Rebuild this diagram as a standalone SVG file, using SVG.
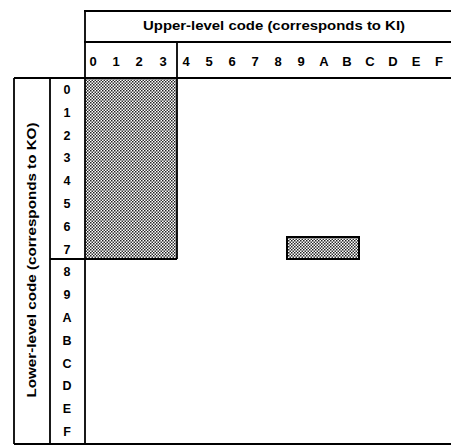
<svg xmlns="http://www.w3.org/2000/svg" width="451" height="446" viewBox="0 0 451 446">
<defs>
<pattern id="dots" width="3" height="3" patternUnits="userSpaceOnUse">
<rect width="3" height="3" fill="#fff"/>
<rect x="0" y="0" width="1.5" height="1.5" fill="#222"/>
<rect x="1.5" y="1.5" width="1.5" height="1.5" fill="#333"/>
</pattern>
<style>
.ln{stroke:#000;stroke-width:1.8;fill:none}
.t{font-family:"Liberation Sans",Arial,sans-serif;font-weight:bold;fill:#000}
.hd{font-size:13px;text-anchor:middle}
.dg{font-size:13px;text-anchor:middle}
.rw{font-size:12.5px;text-anchor:middle}
</style>
</defs>
<rect width="451" height="446" fill="#fff"/>
<g id="shade-low">
<rect x="85" y="78" width="92" height="181" fill="url(#dots)"/>
</g>
<g id="shade-box">
<rect x="287" y="237" width="72" height="22" fill="url(#dots)" stroke="#000" stroke-width="2"/>
</g>
<g id="grid" class="ln">
<line x1="84" y1="11" x2="451" y2="11"/>
<line x1="84" y1="42" x2="451" y2="42"/>
<line x1="14" y1="78" x2="451" y2="78"/>
<line x1="14" y1="444" x2="451" y2="444"/>
<line x1="14" y1="78" x2="14" y2="444"/>
<line x1="50" y1="78" x2="50" y2="444"/>
<line x1="85" y1="10" x2="85" y2="444"/>
<line x1="177" y1="42" x2="177" y2="259"/>
<line x1="50" y1="259" x2="177" y2="259"/>
</g>
<g id="upper-header">
<text class="t hd" x="274" y="30" textLength="262" lengthAdjust="spacingAndGlyphs">Upper-level code (corresponds to KI)</text>
</g>
<g id="upper-codes" class="t dg">
<text x="93" y="65.5">0</text>
<text x="116" y="65.5">1</text>
<text x="139" y="65.5">2</text>
<text x="163" y="65.5">3</text>
<text x="186" y="65.5">4</text>
<text x="209" y="65.5">5</text>
<text x="232" y="65.5">6</text>
<text x="255" y="65.5">7</text>
<text x="278" y="65.5">8</text>
<text x="301" y="65.5">9</text>
<text x="324" y="65.5">A</text>
<text x="347" y="65.5">B</text>
<text x="370" y="65.5">C</text>
<text x="393" y="65.5">D</text>
<text x="416" y="65.5">E</text>
<text x="439" y="65.5">F</text>
</g>
<g id="lower-header">
<text class="t hd" transform="translate(36,260) rotate(-90)" textLength="275" lengthAdjust="spacingAndGlyphs">Lower-level code (corresponds to KO)</text>
</g>
<g id="lower-codes" class="t rw">
<text x="67" y="94">0</text>
<text x="67" y="116.8">1</text>
<text x="67" y="139.6">2</text>
<text x="67" y="162.4">3</text>
<text x="67" y="185.2">4</text>
<text x="67" y="208">5</text>
<text x="67" y="230.8">6</text>
<text x="67" y="253.6">7</text>
<text x="67" y="276.4">8</text>
<text x="67" y="299.2">9</text>
<text x="67" y="322">A</text>
<text x="67" y="344.8">B</text>
<text x="67" y="367.6">C</text>
<text x="67" y="390.4">D</text>
<text x="67" y="413.2">E</text>
<text x="67" y="436">F</text>
</g>
</svg>
